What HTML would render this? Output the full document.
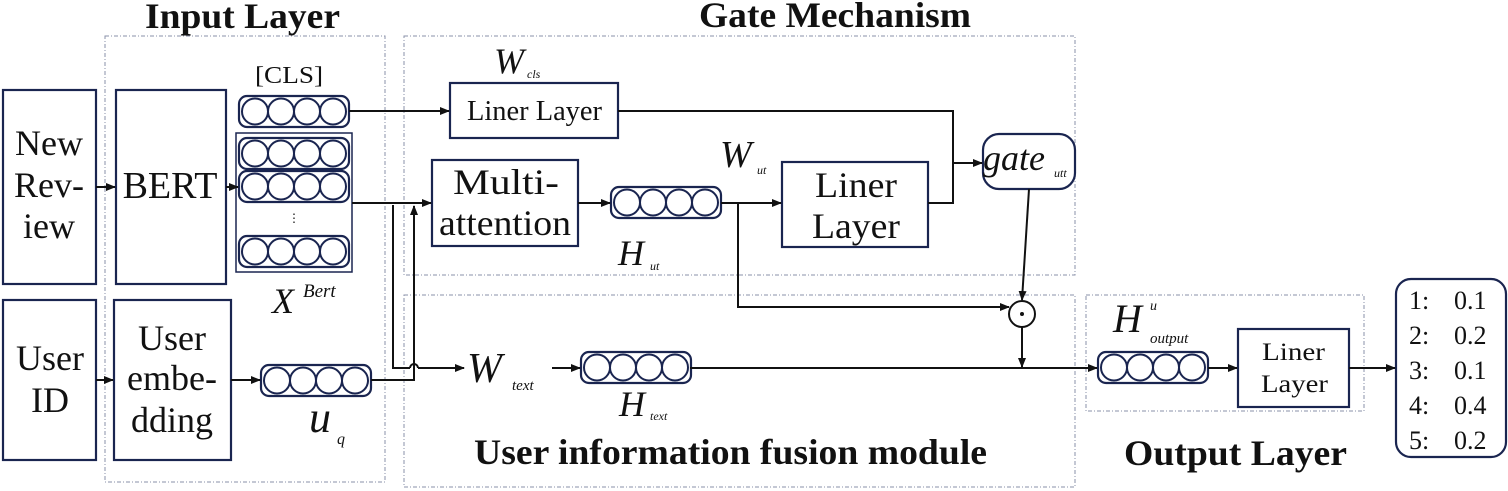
<!DOCTYPE html>
<html><head><meta charset="utf-8"><style>
html,body{margin:0;padding:0;background:#fff;}
svg{display:block;}
text{font-family:"Liberation Serif",serif;fill:#111;}
.b{font-weight:bold;}
.i{font-style:italic;}
</style></head><body>
<svg width="1508" height="491" viewBox="0 0 1508 491" xmlns="http://www.w3.org/2000/svg">
<defs>
<marker id="a" markerWidth="10" markerHeight="8" refX="9" refY="4" orient="auto" markerUnits="userSpaceOnUse">
<path d="M0,0 L10,4 L0,8 z" fill="#111"/></marker>
<g id="v">
<rect x="0" y="0" width="110" height="31" rx="8" fill="none" stroke="#1a2550" stroke-width="2.2"/>
<circle cx="16" cy="15.5" r="13" fill="none" stroke="#1a2550" stroke-width="2"/>
<circle cx="42" cy="15.5" r="13" fill="none" stroke="#1a2550" stroke-width="2"/>
<circle cx="68" cy="15.5" r="13" fill="none" stroke="#1a2550" stroke-width="2"/>
<circle cx="94" cy="15.5" r="13" fill="none" stroke="#1a2550" stroke-width="2"/>
</g>
</defs>

<!-- dashed regions -->
<g fill="none" stroke="#8a90a8" stroke-width="1" stroke-dasharray="4,2,1,2">
<rect x="105" y="36" width="280" height="446"/>
<rect x="404" y="36" width="671" height="239"/>
<rect x="404" y="295" width="671" height="192"/>
<rect x="1086" y="295" width="278" height="116"/>
</g>

<!-- titles -->
<text x="145" y="28" font-size="36" class="b" textLength="195" lengthAdjust="spacingAndGlyphs">Input Layer</text>
<text x="699" y="27" font-size="36" class="b" textLength="272" lengthAdjust="spacingAndGlyphs">Gate Mechanism</text>
<text x="474" y="464" font-size="36" class="b" textLength="513" lengthAdjust="spacingAndGlyphs">User information fusion module</text>
<text x="1124" y="465" font-size="36" class="b" textLength="223" lengthAdjust="spacingAndGlyphs">Output Layer</text>

<!-- boxes -->
<g fill="none" stroke="#1a2550" stroke-width="2.2">
<rect x="3" y="90" width="93" height="194"/>
<rect x="116" y="90" width="110" height="194"/>
<rect x="3" y="300" width="93" height="160"/>
<rect x="114" y="300" width="117" height="160"/>
<rect x="236" y="133" width="116" height="139" stroke-width="1.5"/>
<rect x="450" y="83" width="168" height="55"/>
<rect x="432" y="160" width="146" height="86"/>
<rect x="782" y="162" width="146" height="85"/>
<rect x="983" y="134" width="92" height="55" rx="16"/>
<rect x="1238" y="329" width="111" height="78"/>
<rect x="1396" y="279" width="110" height="178" rx="15"/>
</g>

<!-- box text -->
<g font-size="36" text-anchor="middle">
<text x="49" y="155">New</text>
<text x="49" y="197">Rev-</text>
<text x="49" y="238">iew</text>
<text x="170" y="198" font-size="38">BERT</text>
<text x="50" y="370">User</text>
<text x="50" y="412">ID</text>
<text x="172" y="350">User</text>
<text x="172" y="390">embe-</text>
<text x="172" y="432">dding</text>
</g>
<text x="453" y="194" font-size="36" textLength="106" lengthAdjust="spacingAndGlyphs">Multi-</text>
<text x="439" y="235" font-size="36" textLength="132" lengthAdjust="spacingAndGlyphs">attention</text>
<text x="815" y="197" font-size="36" textLength="82" lengthAdjust="spacingAndGlyphs">Liner</text>
<text x="812" y="238" font-size="36" textLength="88" lengthAdjust="spacingAndGlyphs">Layer</text>
<text x="467" y="120" font-size="28" textLength="135" lengthAdjust="spacingAndGlyphs">Liner Layer</text>
<text x="1262" y="360" font-size="25" textLength="63" lengthAdjust="spacingAndGlyphs">Liner</text>
<text x="1261" y="392" font-size="25" textLength="67" lengthAdjust="spacingAndGlyphs">Layer</text>
<g font-size="26">
<text x="1409" y="309">1:</text><text x="1454" y="309">0.1</text>
<text x="1409" y="344">2:</text><text x="1454" y="344">0.2</text>
<text x="1409" y="379">3:</text><text x="1454" y="379">0.1</text>
<text x="1409" y="414">4:</text><text x="1454" y="414">0.4</text>
<text x="1409" y="449">5:</text><text x="1454" y="449">0.2</text>
</g>

<!-- vectors -->
<use href="#v" x="239" y="96"/>
<use href="#v" x="239" y="138"/>
<use href="#v" x="239" y="171"/>
<use href="#v" x="239" y="236"/>
<use href="#v" x="261" y="365"/>
<use href="#v" x="611" y="187"/>
<use href="#v" x="581" y="352"/>
<use href="#v" x="1098" y="352"/>
<text x="294" y="222" font-size="12" text-anchor="middle">⋮</text>

<!-- labels -->
<text x="255" y="83" font-size="24" textLength="68" lengthAdjust="spacingAndGlyphs">[CLS]</text>
<text x="272" y="313" font-size="36" class="i">X</text><text x="303" y="297" font-size="19" class="i">Bert</text>
<text x="309" y="432" font-size="44" class="i">u</text><text x="337" y="444" font-size="16" class="i">q</text>
<text x="494" y="73" font-size="36" class="i">W</text><text x="527" y="78" font-size="12" class="i">cls</text>
<text x="720" y="167" font-size="38" class="i">W</text><text x="757" y="174" font-size="12" class="i">ut</text>
<text x="618" y="265" font-size="36" class="i">H</text><text x="650" y="270" font-size="12" class="i">ut</text>
<text x="467" y="382" font-size="42" class="i">W</text><text x="512" y="390" font-size="15" class="i">text</text>
<text x="619" y="416" font-size="36" class="i">H</text><text x="650" y="420" font-size="12" class="i">text</text>
<text x="1113" y="332" font-size="40" class="i">H</text><text x="1150" y="310" font-size="14" class="i">u</text><text x="1150" y="343" font-size="15" class="i">output</text>
<text x="983" y="170" font-size="36" class="i">gate</text><text x="1054" y="177" font-size="12" class="i">utt</text>

<!-- connectors -->
<g fill="none" stroke="#111" stroke-width="2">
<line x1="96" y1="187" x2="115" y2="187" marker-end="url(#a)"/>
<line x1="226" y1="187" x2="238" y2="187" marker-end="url(#a)"/>
<line x1="96" y1="380" x2="113" y2="380" marker-end="url(#a)"/>
<line x1="231" y1="380" x2="260" y2="380" marker-end="url(#a)"/>
<line x1="349" y1="111" x2="449" y2="111" marker-end="url(#a)"/>
<line x1="352" y1="203" x2="431" y2="203" marker-end="url(#a)"/>
<polyline points="393,205 393,368 410,368"/>
<path d="M410,368 A4,4 0 0 1 418,368"/>
<line x1="418" y1="368" x2="464" y2="368" marker-end="url(#a)"/>
<polyline points="371,380 414,380 414,206" marker-end="url(#a)"/>
<line x1="552" y1="368" x2="580" y2="368" marker-end="url(#a)"/>
<line x1="578" y1="203" x2="610" y2="203" marker-end="url(#a)"/>
<line x1="721" y1="203" x2="781" y2="203" marker-end="url(#a)"/>
<polyline points="618,111 953,111 953,163 982,163" marker-end="url(#a)"/>
<polyline points="928,203 953,203 953,163"/>
<polyline points="738,203 738,307 1009,307" marker-end="url(#a)"/>
<line x1="1029" y1="189" x2="1022" y2="300" marker-end="url(#a)"/>
<line x1="1022" y1="327" x2="1022" y2="367" marker-end="url(#a)"/>
<line x1="690" y1="368" x2="1097" y2="368" marker-end="url(#a)"/>
<line x1="1208" y1="368" x2="1237" y2="368" marker-end="url(#a)"/>
<line x1="1349" y1="368" x2="1395" y2="368" marker-end="url(#a)"/>
<circle cx="1022" cy="314" r="13"/>
</g>
<circle cx="1022" cy="314" r="2" fill="#111"/>
</svg>
</body></html>
